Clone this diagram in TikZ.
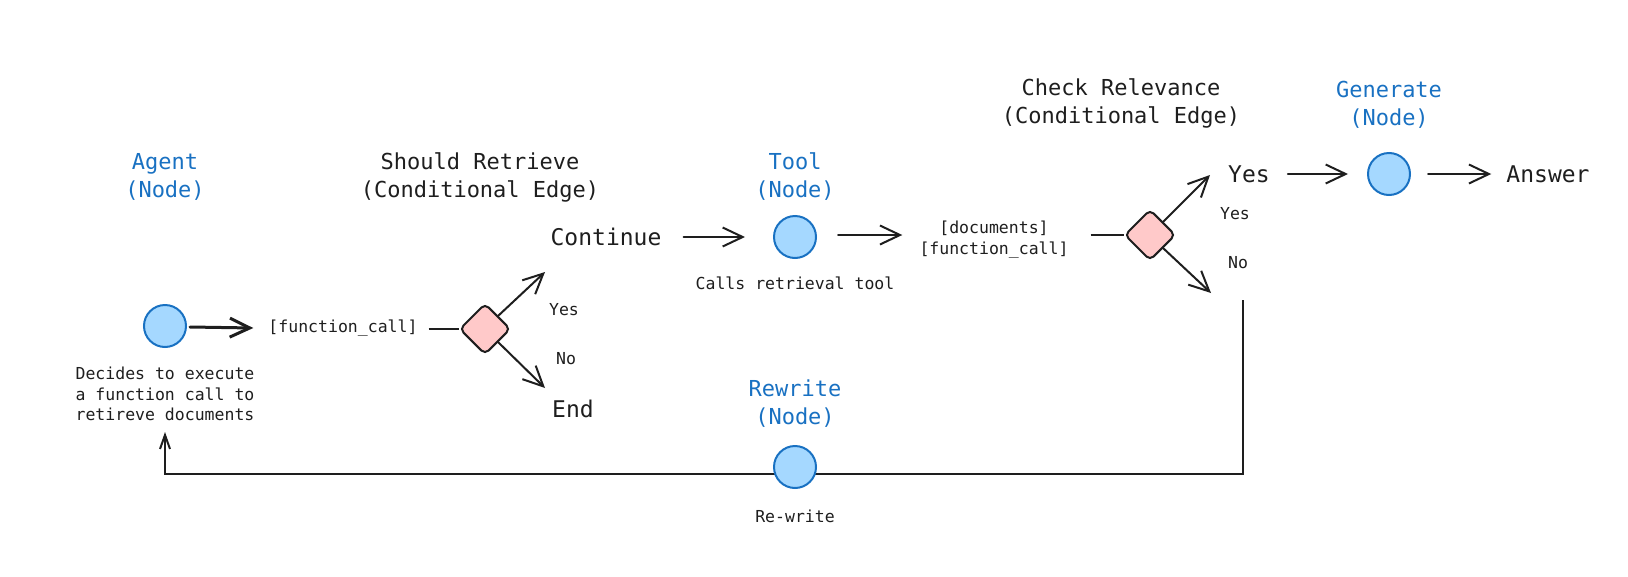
\documentclass[tikz,border=0pt]{standalone}
\usepackage{fontspec}
\setmonofont{DejaVu Sans Mono}
\usetikzlibrary{arrows.meta,shapes.geometric,backgrounds}
\definecolor{ink}{HTML}{1E1E1E}
\definecolor{nodeblue}{HTML}{1971C2}
\definecolor{fillblue}{HTML}{A5D8FF}
\definecolor{fillred}{HTML}{FFC9C9}
\begin{document}
\begin{tikzpicture}[x=1pt,y=-1pt,
 every node/.style={text=ink,font=\ttfamily},
 head/.style={font=\fontsize{22}{28}\selectfont\ttfamily, align=center, inner sep=0pt},
 bluehead/.style={head, text=nodeblue},
 flow/.style={font=\fontsize{23}{28}\selectfont\ttfamily, inner sep=0pt},
 small/.style={font=\fontsize{16.5}{20.8}\selectfont\ttfamily, align=center, inner sep=0pt},
 gnode/.style={circle, draw=nodeblue, fill=fillblue, line width=2pt, minimum size=42pt, inner sep=0pt},
 cond/.style={diamond, draw=ink, fill=fillred, line width=2pt, minimum width=51pt, minimum height=51pt, inner sep=0pt, rounded corners=5pt},
 arr/.style={draw=ink, line width=2pt, line cap=round, -{Straight Barb[length=20pt,width=19pt]}},
 backarr/.style={draw=ink, line width=2.5pt, -{Straight Barb[length=14pt,width=10pt,line width=2pt]}},
 ln/.style={draw=ink, line width=2pt}
]
\useasboundingbox (0,0) rectangle (1628,576);

% nodes
\node[gnode] (agent) at (165,326) {};
\node[bluehead] (agentlbl) at (165,177) {Agent\\(Node)};
\node[small] (agentdesc) at (165,394) {Decides to execute\\a function call to\\retireve documents};
\node[small] (fc1) at (343,328) {[function\_call]};
\node[cond] (d1) at (485,329) {};
\node[head] (sr) at (480,177) {Should Retrieve\\(Conditional Edge)};
\node[flow] (cont) at (606,237) {Continue};
\node[flow] (endn) at (573,409) {End};
\node[small] (y1) at (564,310) {Yes};
\node[small] (n1) at (566,359) {No};
\node[gnode] (tool) at (795,237) {};
\node[bluehead] (toollbl) at (795,177) {Tool\\(Node)};
\node[small] (tooldesc) at (795,283) {Calls retrieval tool};
\node[small] (docs) at (994,240) {[documents]\\{}[function\_call]};
\node[cond] (d2) at (1150,235) {};
\node[head] (cr) at (1121,103) {Check Relevance\\(Conditional Edge)};
\node[flow] (yes2) at (1249,174) {Yes};
\node[small] (y2) at (1235,214) {Yes};
\node[small] (n2) at (1238,263) {No};
\node[gnode] (gen) at (1389,174) {};
\node[bluehead] (genlbl) at (1389,105) {Generate\\(Node)};
\node[flow] (ans) at (1548,174) {Answer};
\node[gnode] (rw) at (795,467) {};
\node[bluehead] (rwlbl) at (795,404) {Rewrite\\(Node)};
\node[small] (rwdesc) at (795,516) {Re-write};

% free ends
\coordinate (d1y) at (545,272);
\coordinate (d1n) at (545,388);
\coordinate (d2y) at (1210,175);
\coordinate (d2n) at (1211,293);
\coordinate (rtop) at (1243,300);
\coordinate (rbot) at (1243,474);
\coordinate (lbot) at (165,474);
\coordinate (agtip) at (165,432);

% connectors
\draw[arr, line width=3pt] ([xshift=3pt,yshift=-1pt]agent.east) -- ([xshift=-15pt]fc1.west);
\draw[ln] ([xshift=11pt,yshift=-1pt]fc1.east) -- (d1.west);
\draw[arr] (d1.north east) -- (d1y);
\draw[arr] (d1.south east) -- (d1n);
\draw[arr] ([xshift=22pt]cont.east) -- ([xshift=-28pt]tool.west);
\draw[arr] ([xshift=21pt,yshift=2pt]tool.east) -- ([xshift=-17pt,yshift=5pt]docs.west);
\draw[ln] ([xshift=22pt,yshift=5pt]docs.east) -- (d2.west);
\draw[arr] (d2.north east) -- (d2y);
\draw[arr] (d2.south east) -- (d2n);
\draw[arr] ([xshift=18pt]yes2.east) -- ([xshift=-19pt]gen.west);
\draw[arr] ([xshift=17pt]gen.east) -- ([xshift=-15pt]ans.west);
\begin{pgfonlayer}{background}
\draw[backarr] (rtop) -- (rbot) -- (lbot) -- (agtip);
\end{pgfonlayer}
\end{tikzpicture}
\end{document}
